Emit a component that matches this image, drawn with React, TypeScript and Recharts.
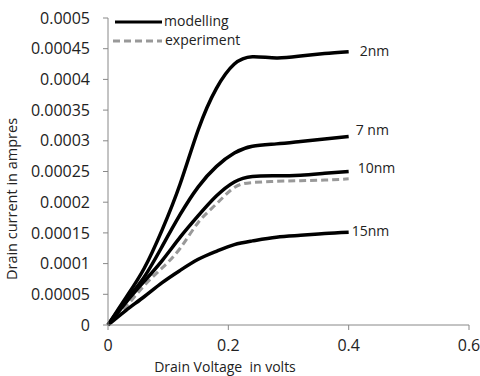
import React from 'react'
import { LineChart, Line, XAxis, YAxis } from 'recharts'

const voltage = [0, 0.03, 0.06, 0.09, 0.12, 0.15, 0.18, 0.21, 0.24, 0.28, 0.32, 0.36, 0.4]
const nm2 = [0, 0.000045, 0.000092, 0.000155, 0.00023, 0.000318, 0.000385, 0.000425, 0.000437, 0.000435, 0.000438, 0.000442, 0.000445]
const nm7 = [0, 0.00004, 0.000078, 0.000128, 0.00018, 0.000225, 0.000258, 0.00028, 0.000291, 0.000295, 0.000299, 0.000303, 0.000307]
const nm10 = [0, 0.000037, 0.000071, 0.000105, 0.000143, 0.000178, 0.00021, 0.000233, 0.000242, 0.000243, 0.000244, 0.000247, 0.00025]
const nm15 = [0, 0.000024, 0.000046, 0.000069, 0.000089, 0.000107, 0.00012, 0.000131, 0.000137, 0.000143, 0.000146, 0.000149, 0.000151]
const experiment = [0, 0.00003, 0.000064, 0.000093, 0.000125, 0.000167, 0.000197, 0.000224, 0.000232, 0.000234, 0.000235, 0.000236, 0.000238]

const xTicks = [0, 0.2, 0.4, 0.6]
const yTicks = [0, 0.00005, 0.0001, 0.00015, 0.0002, 0.00025, 0.0003, 0.00035, 0.0004, 0.00045, 0.0005]

const data = voltage.map((v, i) => ({
  v,
  nm2: nm2[i],
  nm7: nm7[i],
  nm10: nm10[i],
  nm15: nm15[i],
  experiment: experiment[i],
}))

const FONT = '"Open Sans", sans-serif'
const last = voltage.length - 1

const endLabel = (text: string, dx: number, dy: number) => (props: any) => {
  if (props.index !== last) return null
  return (
    <text x={props.x + dx} y={props.y + dy} fontSize={14} fontFamily={FONT} fill="#222" dominantBaseline="middle">
      {text}
    </text>
  )
}

const App = () => {
  return (
    <div style={{ position: 'absolute', left: 0, top: 0, width: 480, height: 376, background: '#fff' }}>
      <LineChart width={480} height={376} data={data} margin={{ top: 18, right: 11, left: 0, bottom: 0 }}>
        <XAxis
          dataKey="v"
          type="number"
          domain={[0, 0.6]}
          ticks={xTicks}
          height={51}
          stroke="#888"
          tickSize={5}
          tickMargin={10}
          tick={{ fill: '#222', fontSize: 16, fontFamily: FONT }}
          label={() => (
            <text x={225} y={368} textAnchor="middle" dominantBaseline="middle" fontSize={14} fontFamily={FONT} fill="#222" style={{ whiteSpace: 'pre' }}>
              {'Drain Voltage  in volts'}
            </text>
          )}
        />
        <YAxis
          type="number"
          domain={[0, 0.0005]}
          ticks={yTicks}
          width={108}
          stroke="#888"
          tickSize={5}
          tickMargin={13}
          interval={0}
          tickFormatter={(t: number) => String(Number(t.toPrecision(2)))}
          tick={{ fill: '#222', fontSize: 16, fontFamily: FONT }}
          label={() => (
            <text x={13} y={199} transform="rotate(-90 13 199)" textAnchor="middle" dominantBaseline="middle" fontSize={14.5} fontFamily={FONT} fill="#222">
              Drain current in ampres
            </text>
          )}
        />
        <Line dataKey="experiment" type="natural" stroke="#999" strokeWidth={3} strokeDasharray="7 4" dot={false} isAnimationActive={false} />
        <Line dataKey="nm2" type="natural" stroke="#000" strokeWidth={3.5} dot={false} isAnimationActive={false} label={endLabel('2nm', 11, 0)} />
        <Line dataKey="nm7" type="natural" stroke="#000" strokeWidth={3.5} dot={false} isAnimationActive={false} label={endLabel('7 nm', 7, -5)} />
        <Line dataKey="nm10" type="natural" stroke="#000" strokeWidth={3.5} dot={false} isAnimationActive={false} label={endLabel('10nm', 9, -2)} />
        <Line dataKey="nm15" type="natural" stroke="#000" strokeWidth={3.5} dot={false} isAnimationActive={false} label={endLabel('15nm', 3, 0)} />
      </LineChart>
      <svg width={200} height={48} style={{ position: 'absolute', left: 110, top: 12 }}>
        <line x1={5} y1={10} x2={52} y2={10} stroke="#000" strokeWidth={3} />
        <text x={54} y={10} fontSize={14} fontFamily={FONT} fill="#222" dominantBaseline="middle">modelling</text>
        <line x1={3} y1={29} x2={52} y2={29} stroke="#999" strokeWidth={3} strokeDasharray="7 4" />
        <text x={55} y={29} fontSize={14} fontFamily={FONT} fill="#222" dominantBaseline="middle">experiment</text>
      </svg>
    </div>
  )
}

export default App
